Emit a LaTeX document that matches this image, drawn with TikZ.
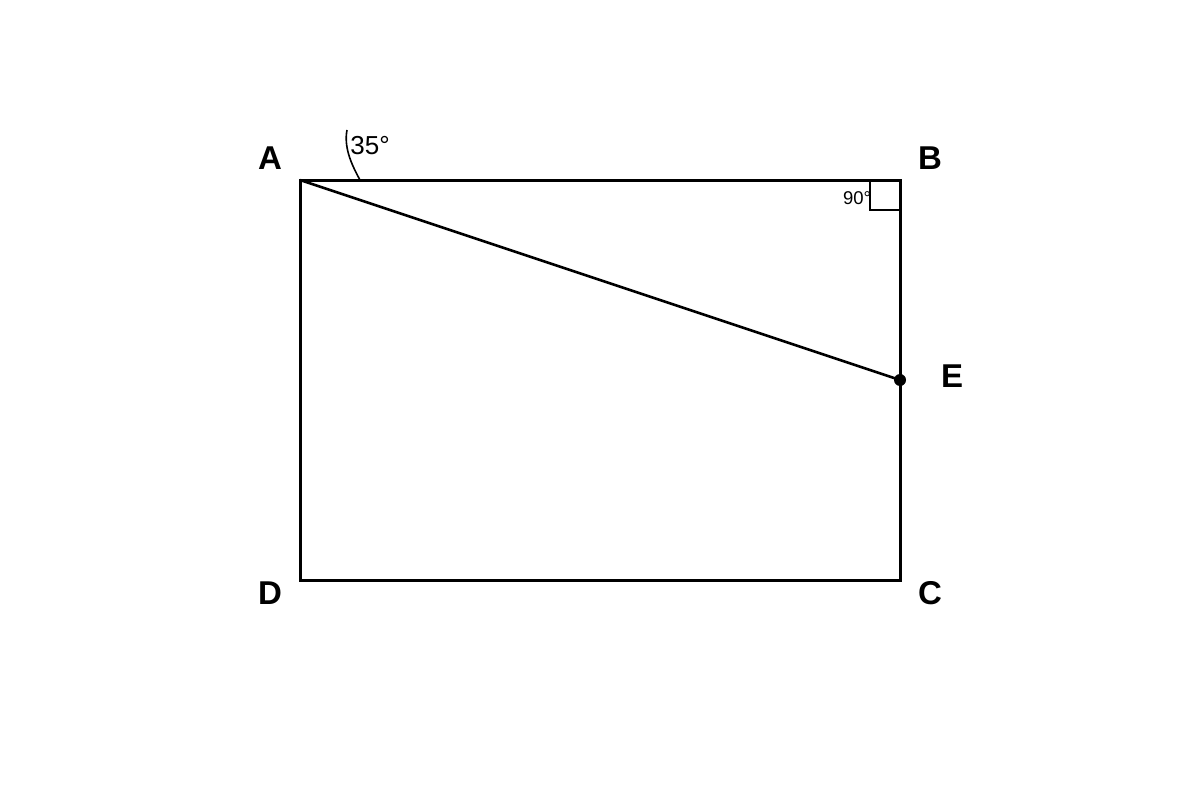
\documentclass[tikz,border=0pt]{standalone}
\usepackage{fontspec}
\setmainfont{Liberation Sans}
\begin{document}
\begin{tikzpicture}[x=1pt,y=-1pt,
  lbl/.style={font=\fontsize{33}{37}\selectfont\bfseries, inner sep=0pt},
  edge/.style={line width=3pt},
]
\useasboundingbox (0,0) rectangle (1200,800);
\coordinate (A) at (300,180);
\coordinate (B) at (900,180);
\coordinate (C) at (900,580);
\coordinate (D) at (300,580);
\coordinate (E) at (900,380);
\draw[edge, line join=miter] (A) -- (B) -- (C) -- (D) -- cycle;
\draw[line width=2.6pt] (A) -- (E);
\fill (E) circle (6);
\draw[line width=1.8pt] (870,180) -- (870,210) -- (900,210);
\coordinate (arcS) at (360,180);
\coordinate (arcE) at (347,130);
\draw[line width=1.6pt] (arcS) .. controls (350,162) and (344,146) .. (arcE);
\node[inner sep=0pt, font=\fontsize{26}{30}\selectfont] (ang) at (370,146) {35°};
\node[inner sep=0pt, font=\fontsize{18.5}{22}\selectfont] (rt) at (857,198) {90°};
\node[lbl] (lA) at (270,158) {A};
\node[lbl] (lB) at (930,158) {B};
\node[lbl] (lC) at (930,593) {C};
\node[lbl] (lD) at (270,593) {D};
\node[lbl] (lE) at (952,376) {E};
\end{tikzpicture}
\end{document}
